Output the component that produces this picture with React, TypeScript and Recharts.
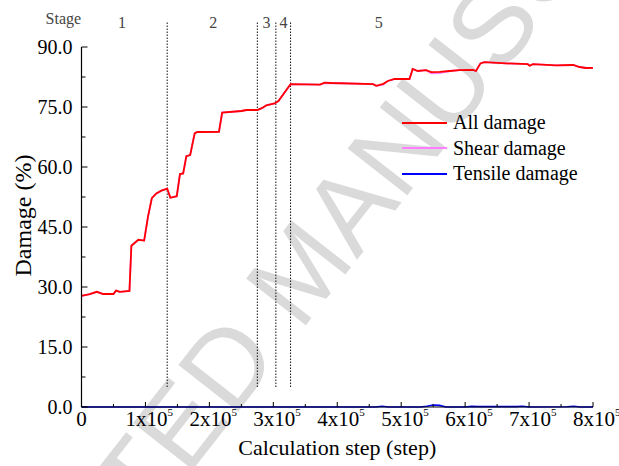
import React from 'react';
import { LineChart, Line, XAxis, YAxis, ReferenceLine, ReferenceDot, Legend } from 'recharts';

const FONT = 'Liberation Serif, Times New Roman, Times, Nimbus Roman, DejaVu Serif, serif';

// Calculation steps and total damage (%) along the run
const damageSteps = [
  0, 13000, 24000, 34000, 50000, 54000, 60000, 75000, 78000, 89000, 98000, 104000, 110000,
  117000, 125000, 134000, 139000, 149000, 154000, 159000, 164000, 170000, 177000, 181000,
  215000, 220000, 250000, 258000, 275000, 282000, 289000, 302000, 308000, 321000, 327000,
  373000, 380000, 391000, 456000, 461000, 472000, 479000, 490000, 513000, 518000, 526000,
  539000, 547000, 560000, 576000, 591000, 612000, 617000, 624000, 630000, 664000, 698000,
  701000, 706000, 742000, 769000, 779000, 789000, 800000,
];
const allDamage = [
  27.8, 28.2, 28.8, 28.25, 28.25, 29.1, 28.8, 29.0, 40.3, 41.8, 41.6, 47.6, 52.2,
  53.4, 54.1, 54.6, 52.3, 52.7, 58.25, 58.4, 62.7, 63.0, 68.4, 68.75,
  68.8, 73.6, 74.0, 74.25, 74.25, 74.7, 75.4, 75.9, 76.5, 79.4, 80.7,
  80.6, 81.1, 81.0, 80.7, 80.3, 80.8, 81.5, 82.0, 82.0, 84.5, 84.0,
  84.2, 83.7, 83.8, 84.0, 84.2, 84.3, 84.0, 85.9, 86.2, 85.9, 85.7,
  85.3, 85.7, 85.4, 85.5, 85.0, 84.75, 84.8,
];
const shearDamage = [
  27.8, 28.2, 28.8, 28.25, 28.25, 29.1, 28.8, 29.0, 40.3, 41.8, 41.6, 47.6, 52.2,
  53.4, 54.1, 54.6, 52.3, 52.7, 58.25, 58.4, 62.7, 63.0, 68.4, 68.75,
  68.8, 73.6, 74.0, 74.25, 74.25, 74.7, 75.4, 75.9, 76.5, 79.4, 80.7,
  80.6, 80.9, 81.0, 80.7, 80.3, 80.6, 81.5, 82.0, 82.0, 84.5, 84.0,
  84.2, 83.4, 83.5, 84.0, 84.2, 84.3, 84.0, 85.9, 86.2, 85.9, 85.7,
  85.3, 85.7, 85.4, 85.5, 85.0, 84.75, 84.8,
];

// Tensile damage (%) stays close to zero
const tensileSteps = [0, 460000, 470000, 480000, 530000, 540000, 550000, 560000, 570000, 600000, 610000, 620000, 680000, 690000, 700000, 760000, 770000, 780000, 800000];
const tensileDamage = [0, 0, 0.2, 0, 0, 0.2, 0.5, 0.4, 0, 0, 0.15, 0.1, 0.1, 0.2, 0, 0.05, 0.2, 0, 0];

// Stage boundaries and stage label positions (calculation step)
const stageBoundaries = [134000, 275000, 304000, 327000];
const stageNames = ['Stage', '1', '2', '3', '4', '5'];
const stageLabelSteps = [-28400, 63300, 206000, 289400, 316000, 465000];

const xTicks = [0, 50000, 100000, 150000, 200000, 250000, 300000, 350000, 400000, 450000, 500000, 550000, 600000, 650000, 700000, 750000, 800000];
const yTicks = [0, 7.5, 15, 22.5, 30, 37.5, 45, 52.5, 60, 67.5, 75, 82.5, 90];

const seriesNames = ['All damage', 'Shear damage', 'Tensile damage'];

const toPoints = (steps: number[], values: number[]) => steps.map((step, i) => ({ step, v: values[i] }));
const allData = toPoints(damageSteps, allDamage);
const shearData = toPoints(damageSteps, shearDamage);
const tensileData = toPoints(tensileSteps, tensileDamage);

function XTick(props: any) {
  const { x, y, payload } = props;
  const v = payload.value as number;
  const major = v % 100000 === 0;
  const n = Math.round(v / 100000);
  return (
    <g>
      <line x1={x} x2={x} y1={y} y2={y - (major ? 5 : 3)} stroke="#000" strokeWidth={1} />
      {major && n === 0 && (
        <text x={x} y={y + 18.5} textAnchor="middle" style={{ fontFamily: FONT }} fontSize={21} fill="#000">0</text>
      )}
      {major && n > 0 && (
        <g>
          <text x={x + 1} y={y + 18.5} textAnchor="middle" style={{ fontFamily: FONT }} fontSize={21} fill="#000">{`${n}x10`}</text>
          <text x={x + 22} y={y + 9} textAnchor="start" style={{ fontFamily: FONT }} fontSize={11} fill="#000">5</text>
        </g>
      )}
    </g>
  );
}

function YTick(props: any) {
  const { x, y, payload } = props;
  const v = payload.value as number;
  const major = Math.abs(v % 15) < 1e-6;
  return (
    <g>
      <line x1={x} x2={x + (major ? 6 : 4)} y1={y} y2={y} stroke="#000" strokeWidth={1} />
      {major && (
        <text x={x - 9} y={y} dy="0.35em" textAnchor="end" style={{ fontFamily: FONT }} fontSize={20} fill="#000">{v.toFixed(1)}</text>
      )}
    </g>
  );
}

function YTitle(props: any) {
  const vb = props.viewBox || { x: 0, y: 0, width: 0, height: 0 };
  const cx = vb.x + 23;
  const cy = vb.y + vb.height / 2 - 11.5;
  return (
    <text x={cx} y={cy} transform={`rotate(-90 ${cx} ${cy})`} textAnchor="middle" dy="0.35em" style={{ fontFamily: FONT }} fontSize={24} fill="#000">
      Damage (%)
    </text>
  );
}

function LegendBox(props: any) {
  const payload = [...(props.payload || [])].sort(
    (a: any, b: any) => seriesNames.indexOf(a.value) - seriesNames.indexOf(b.value)
  );
  return (
    <div style={{ fontFamily: FONT, fontSize: 20, color: '#000' }}>
      {payload.map((p: any) => (
        <div key={p.value} style={{ display: 'flex', alignItems: 'center', height: 25.5, whiteSpace: 'nowrap' }}>
          <svg width={45} height={4} style={{ display: 'block' }}>
            <line x1={0} x2={45} y1={2} y2={2} stroke={p.color} strokeWidth={1.8} />
          </svg>
          <span style={{ marginLeft: 6, lineHeight: '25.5px' }}>{p.value}</span>
        </div>
      ))}
    </div>
  );
}

export default function App() {
  return (
    <div style={{ position: 'absolute', left: 0, top: 0, width: 619, height: 466, background: '#fff', fontFamily: FONT }}>
      <svg width={619} height={466} style={{ position: 'absolute', left: 0, top: 0 }}>
        <text
          x={300}
          y={270}
          transform="rotate(-52 300 270)"
          textAnchor="middle"
          dominantBaseline="central"
          style={{ fontFamily: 'Liberation Sans, Arial, sans-serif' }}
          fontSize={110}
          fill="#dadada"
        >
          ACCEPTED MANUSCRIPT
        </text>
      </svg>
      <div style={{ position: 'absolute', left: 0, top: 0 }}>
        <LineChart width={619} height={466} margin={{ top: 47, right: 26, bottom: 0, left: 0 }} style={{ fontFamily: FONT }}>
          <XAxis
            type="number"
            dataKey="step"
            domain={[0, 800000]}
            ticks={xTicks}
            interval={0}
            height={59}
            tickLine={false}
            tickSize={0}
            tickMargin={0}
            tick={<XTick />}
            axisLine={{ stroke: '#000', strokeWidth: 1.2 }}
            label={{ value: 'Calculation step (step)', position: 'insideBottom', offset: 11, fontSize: 22, style: { fontFamily: FONT }, fill: '#000' }}
          />
          <YAxis
            type="number"
            domain={[0, 90]}
            ticks={yTicks}
            interval={0}
            width={81.5}
            tickLine={false}
            tickSize={0}
            tickMargin={0}
            tick={<YTick />}
            axisLine={{ stroke: '#000', strokeWidth: 1.2 }}
            label={(p: any) => <YTitle {...p} />}
          />
          {stageBoundaries.map((s) => (
            <ReferenceLine
              key={s}
              segment={[{ x: s, y: 5 }, { x: s, y: 96.5 }]}
              ifOverflow="visible"
              stroke="#111"
              strokeWidth={1}
              strokeDasharray="1.5 1.5"
            />
          ))}
          {stageNames.map((name, i) => (
            <ReferenceDot
              key={name}
              x={stageLabelSteps[i]}
              y={i === 0 ? 97.2 : 96.25}
              r={0}
              fill="none"
              stroke="none"
              ifOverflow="visible"
              label={{ value: name, position: 'center', fill: '#444', fontSize: 16, style: { fontFamily: FONT } }}
            />
          ))}
          <Line data={shearData} dataKey="v" name="Shear damage" type="linear" stroke="#ff80ff" strokeWidth={1.8} dot={false} isAnimationActive={false} />
          <Line data={allData} dataKey="v" name="All damage" type="linear" stroke="#ff0000" strokeWidth={1.8} dot={false} isAnimationActive={false} />
          <Line data={tensileData} dataKey="v" name="Tensile damage" type="linear" stroke="#0000ff" strokeWidth={1.6} dot={false} isAnimationActive={false} />
          <Legend
            layout="vertical"
            align="center"
            verticalAlign="middle"
            content={<LegendBox />}
            wrapperStyle={{ left: 402, top: 110, width: 200, height: 80 }}
          />
        </LineChart>
      </div>
    </div>
  );
}
